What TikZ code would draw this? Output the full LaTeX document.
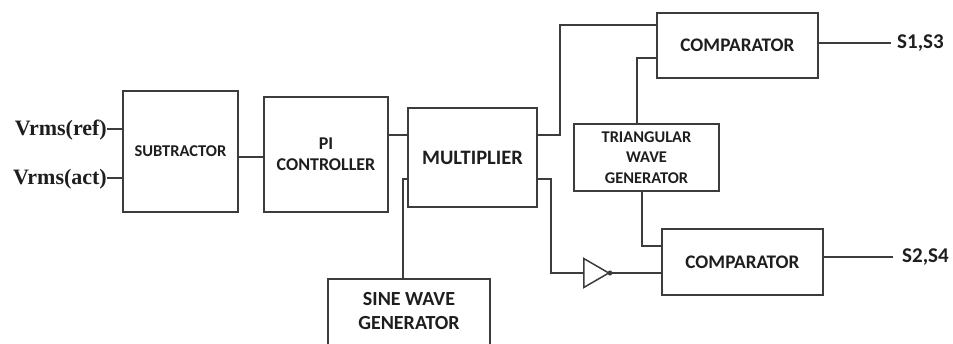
\documentclass[tikz,border=0pt]{standalone}
\usepackage{fontspec}
\setmainfont{Carlito}
\newfontfamily\serifb{Liberation Serif}
\usetikzlibrary{shapes.geometric}
\definecolor{ln}{HTML}{3C3C3C}
\definecolor{tx}{HTML}{1E1E1E}
\begin{document}
\begin{tikzpicture}[x=1pt,y=-1pt,
  blk/.style={draw=ln,line width=1.5pt,rectangle,inner sep=0pt,align=center,text=tx,font=\bfseries\fontsize{17}{21}\selectfont},
  wire/.style={draw=ln,line width=1.5pt},
  lbl/.style={inner sep=0pt,text=tx,font=\bfseries\fontsize{21}{24}\selectfont},
  vlbl/.style={inner sep=0pt,text=tx,font=\serifb\bfseries\fontsize{22}{24}\selectfont}]
\useasboundingbox (0,0) rectangle (953,343);
\node[blk,minimum width=115pt,minimum height=121pt,font=\bfseries\fontsize{16.5}{21}\selectfont] (sub) at (180.5,151.5) {SUBTRACTOR};
\node[blk,minimum width=124pt,minimum height=115pt,font=\bfseries\fontsize{18}{21}\selectfont] (pi) at (326,154.5) {PI\\CONTROLLER};
\node[blk,minimum width=129pt,minimum height=99pt,font=\bfseries\fontsize{20.5}{22}\selectfont] (mult) at (472.5,157.5) {MULTIPLIER};
\node[blk,minimum width=162pt,minimum height=72pt,anchor=north] (sine) at (409,278) {\rule{0pt}{0pt}};
\node[text=tx,align=center,inner sep=0pt,font=\bfseries\fontsize{20}{24}\selectfont] (sinet) at (409,311) {SINE WAVE\\GENERATOR};
\node[blk,minimum width=161pt,minimum height=65pt,font=\bfseries\fontsize{19.2}{21}\selectfont] (c1) at (737.5,45.5) {COMPARATOR};
\node[blk,minimum width=145pt,minimum height=67pt,font=\bfseries\fontsize{16.4}{20.5}\selectfont] (tri) at (646.5,157.5) {TRIANGULAR\\WAVE\\GENERATOR};
\node[blk,minimum width=161pt,minimum height=66pt,font=\bfseries\fontsize{19.2}{21}\selectfont] (c2) at (742.5,262) {COMPARATOR};
\node[draw=ln,line width=1.5pt,isosceles triangle,isosceles triangle stretches,minimum width=29pt,minimum height=25pt,inner sep=0pt,anchor=west] (buf) at (583,273) {};
\node[draw=ln,fill=ln,circle,minimum size=4.5pt,inner sep=0pt] (bub) at (610,273) {};
\node[vlbl,anchor=east] (vref) at (107,130) {Vrms(ref)};
\node[vlbl,anchor=east] (vact) at (107,179) {Vrms(act)};
\node[lbl,anchor=west] (s13) at (897,43) {S1,S3};
\node[lbl,anchor=west] (s24) at (902,257) {S2,S4};
\draw[wire] (vref.east |- 0,129) -- (sub.west |- 0,129);
\draw[wire] (vact.east |- 0,178) -- (sub.west |- 0,178);
\draw[wire] (sub.east |- 0,157) -- (pi.west |- 0,157);
\draw[wire] (pi.east |- 0,135) -- (mult.west |- 0,135);
\draw[wire] (sine.north -| 403,0) -- (403,179) -- (mult.west |- 0,179);
\draw[wire] (mult.east |- 0,135) -- (560,135) -- (560,25) -- (c1.west |- 0,25);
\draw[wire] (tri.north -| 637,0) -- (637,58) -- (c1.west |- 0,58);
\draw[wire] (tri.south -| 642,0) -- (642,246) -- (c2.west |- 0,246);
\draw[wire] (mult.east |- 0,179) -- (551,179) -- (551,273) -- (buf.west);
\draw[wire] (bub.east) -- (c2.west |- bub.east);
\draw[wire] (c1.east |- 0,43) -- (891,43);
\draw[wire] (c2.east |- 0,257) -- (893,257);
\end{tikzpicture}
\end{document}
